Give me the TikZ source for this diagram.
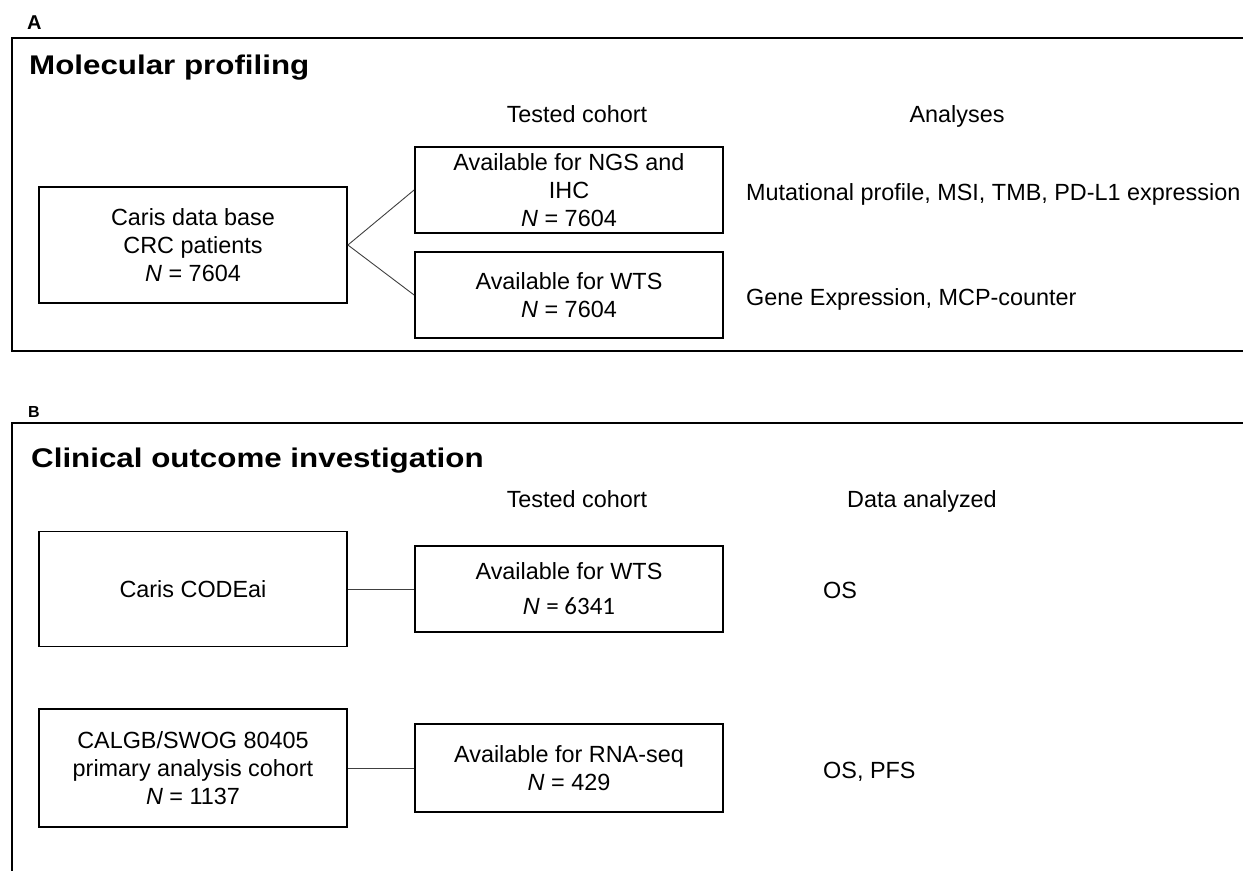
\documentclass[tikz,border=0pt]{standalone}
\usepackage{fontspec}
\usepackage{graphicx}
\setmainfont{Liberation Sans}
\newfontfamily\calib{Carlito}
\begin{document}
\begin{tikzpicture}[x=1bp,y=-1bp,
  body/.style={font=\fontsize{23.4bp}{28bp}\selectfont, inner sep=0pt},
  cbox/.style={draw=black, line width=1.8bp, minimum width=308bp, align=center, inner sep=0pt, font=\fontsize{23.4bp}{28bp}\selectfont},
  frame/.style={line width=2.1bp},
  link/.style={draw=black!75, line width=0.9bp},
  head/.style={font=\bfseries\fontsize{27bp}{30bp}\selectfont, inner sep=0pt, anchor=base west},
  plabel/.style={font=\bfseries, inner sep=0pt, anchor=base west}
]
\useasboundingbox (0,0) rectangle (1243,871);

% ---------- Panel A ----------
\node[plabel, font=\bfseries\fontsize{20bp}{20bp}\selectfont] (la) at (27,29) {A};
\draw[frame] (1243,38) -- (12,38) -- (12,351) -- (1243,351);
\node[head] (ta) at (29,74.5) {\scalebox{1.16}[1]{Molecular profiling}};
\node[body, anchor=base] (tca) at (577,122) {Tested cohort};
\node[body, anchor=base] (ana) at (957,122) {Analyses};

\node[cbox, minimum height=116bp] (a1) at (193,245) {Caris data base\\CRC patients\\\textit{N} = 7604};
\node[cbox, minimum height=86bp] (a2) at (569,190) {Available for NGS and\\IHC\\\textit{N} = 7604};
\node[cbox, minimum height=86bp] (a3) at (569,295) {Available for WTS\\\textit{N} = 7604};
\draw[link] (a1.east) -- (a2.west);
\draw[link] (a1.east) -- (a3.west);

\node[body, anchor=base west] (ma) at (746,200) {Mutational profile, MSI, TMB, PD-L1 expression};
\node[body, anchor=base west] (ga) at (746,305) {Gene Expression, MCP-counter};

% ---------- Panel B ----------
\node[plabel, font=\bfseries\fontsize{16bp}{16bp}\selectfont] (lb) at (28,417) {B};
\draw[frame] (1243,423) -- (12,423) -- (12,871);
\node[head] (tb) at (31,467) {\scalebox{1.16}[1]{Clinical outcome investigation}};
\node[body, anchor=base] (tcb) at (577,507) {Tested cohort};
\node[body, anchor=base] (dab) at (922,507) {Data analyzed};

\node[cbox, minimum height=115bp] (b1) at (193,589) {Caris CODEai};
\node[cbox, minimum height=86bp] (b2) at (569,589) {Available for WTS\\[7bp]\textit{N} {\calib\fontsize{25bp}{28bp}\selectfont = 6341}};
\draw[link] (b1.east) -- (b2.west);
\node[body, anchor=base west] (osb) at (823,598) {OS};

\node[cbox, minimum height=118bp] (b3) at (193,768) {CALGB/SWOG 80405\\primary analysis cohort\\\textit{N} = 1137};
\node[cbox, minimum height=88bp] (b4) at (569,768) {Available for RNA-seq\\\textit{N} = 429};
\draw[link] (b3.east) -- (b4.west);
\node[body, anchor=base west] (pfsb) at (823,778) {OS, PFS};
\end{tikzpicture}
\end{document}
